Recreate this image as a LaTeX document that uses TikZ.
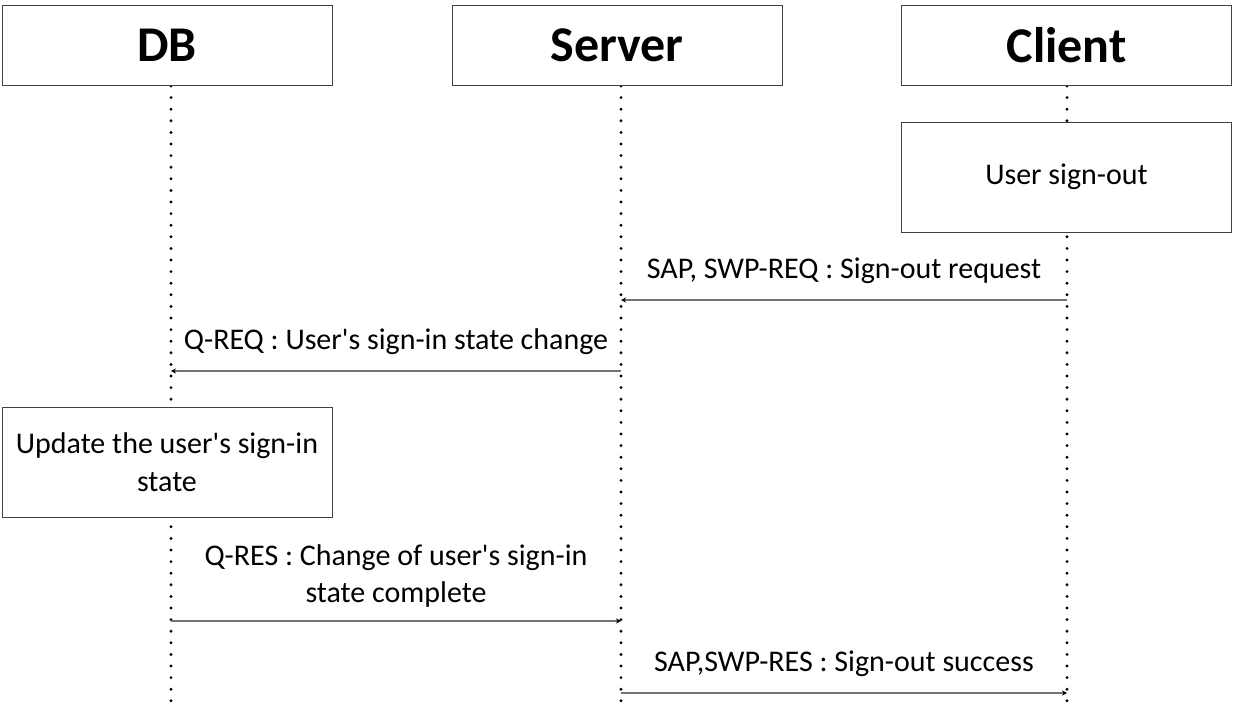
\documentclass[tikz,border=0pt]{standalone}
\usepackage{fontspec}
\setmainfont{Carlito}
\usetikzlibrary{arrows.meta,positioning,backgrounds}

\begin{document}
\begin{tikzpicture}[
            x=1pt,y=-1pt,
            head/.style={draw=black!75,fill=white,minimum width=330pt,minimum height=80pt,font=\fontsize{50}{56}\selectfont\bfseries},
            act/.style={draw=black!75,fill=white,minimum width=330pt,minimum height=110pt,align=center,font=\fontsize{30}{38}\selectfont},
            life/.style={line width=3.2pt,line cap=round,dash pattern=on 0pt off 11.6pt},
            msg/.style={draw=black!55,line width=1.3pt,-{Stealth[length=5pt,width=5pt,black]}},
            lbl/.style={font=\fontsize{30}{37}\selectfont,align=center}
          ]
          \useasboundingbox (0,0) rectangle (1233,715);
          % heads
          \node[head] (db) at (167,45) {DB};
          \node[head] (srv) at (617,45) {Server};
          \node[head] (cli) at (1066.5,45) {Client};
          % lifelines
          \coordinate (dbEnd) at (171,712);
          \coordinate (srvEnd) at (621,712);
          \coordinate (cliEnd) at (1067,712);
          \begin{scope}[on background layer]
            \draw[life] (171,86) -- (dbEnd);
            \draw[life] (621,86) -- (srvEnd);
            \draw[life] (1067,86) -- (cliEnd);
          \end{scope}
          % activities
          \node[act] (signout) at (1066.5,177) {User sign-out};
          \node[act] (update) at (167,462) {Update the user\textquotesingle s sign-in\\state};
          % messages
          \coordinate (c1) at (1067,300);
          \coordinate (s1) at (621,300);
          \coordinate (s2) at (621,371);
          \coordinate (d2) at (171,371);
          \coordinate (d3) at (171,621);
          \coordinate (s3) at (621,621);
          \coordinate (s4) at (621,693);
          \coordinate (c4) at (1067,693);
          \draw[msg] (c1) -- node[lbl,above=12pt] {SAP, SWP-REQ : Sign-out request} (s1);
          \draw[msg] (s2) -- node[lbl,above=12pt] {Q-REQ : User\textquotesingle s sign-in state change} (d2);
          \draw[msg] (d3) -- node[lbl,above=10pt] {Q-RES : Change of user\textquotesingle s sign-in\\state complete} (s3);
          \draw[msg] (s4) -- node[lbl,above=12pt] {SAP,SWP-RES : Sign-out success} (c4);
        \end{tikzpicture}
\end{document}
